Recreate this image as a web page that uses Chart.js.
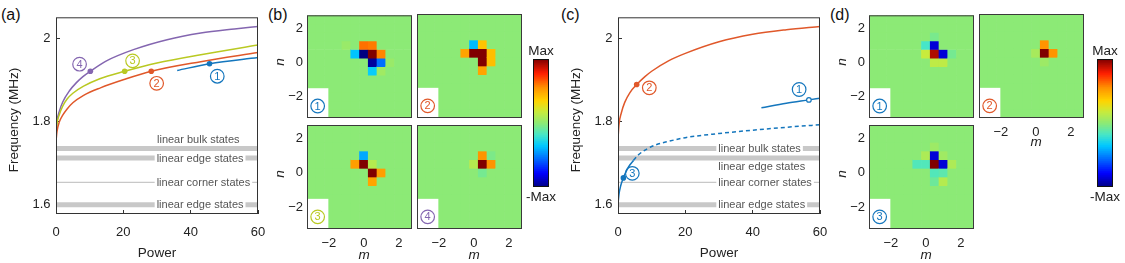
<!DOCTYPE html>
<html>
<head>
<meta charset="utf-8">
<script src="https://cdn.jsdelivr.net/npm/chart.js@4"></script>
<style>
body { margin: 0; background: #fff; }
#wrap { position: relative; width: 1125px; height: 263px; overflow: hidden; }
#wrap canvas { position: absolute; left: 0; top: 0; }
.tag { position: absolute; font: 16px 'Liberation Sans', Arial, sans-serif; color: #111; }
</style>
</head>
<body>
<div id="wrap">
  <div class="tag" style="left:1px;top:6px">(a)</div>
  <div class="tag" style="left:268px;top:6px">(b)</div>
  <div class="tag" style="left:561px;top:6px">(c)</div>
  <div class="tag" style="left:830px;top:6px">(d)</div>
</div>
<script>
// axes
var powerTicks = [0, 20, 40, 60];
var powerTickLabels = ['0', '20', '40', '60'];
var freqTicks = [1.6, 1.8, 2];
var freqTickLabels = ['1.6', '1.8', '2'];
var siteTicks = [-2, 0, 2];
var siteTickLabels = ['\u22122', '0', '2'];
var mVals = [-3, -2.5, -2, -1.5, -1, -0.5, 0, 0.5, 1, 1.5, 2, 2.5];
var nVals = [-3, -2.5, -2, -1.5, -1, -0.5, 0, 0.5, 1, 1.5, 2, 2.5];

// linear states (horizontal bands)
var bandNames = ['linear bulk states', 'linear edge states', 'linear corner states', 'linear edge states'];
var bandFreq = [1.734, 1.711, 1.652, 1.598];

// panel (a): nonlinear branches 1-4
var a1Power = [36, 45.6, 60];
var a1Freq = [1.922, 1.938, 1.953];
var a2Power = [0, 0.3, 1, 2, 3.3, 5, 8.2, 13.2, 20.2, 28.3, 43, 60];
var a2Freq = [1.752, 1.775, 1.798, 1.814, 1.829, 1.844, 1.862, 1.880, 1.900, 1.920, 1.943, 1.965];
var a3Power = [0, 0.3, 1, 2, 3.3, 5, 8.2, 13, 20.4, 30, 43, 60];
var a3Freq = [1.765, 1.793, 1.816, 1.836, 1.853, 1.867, 1.884, 1.902, 1.920, 1.940, 1.960, 1.983];
var a4Power = [0, 0.3, 1, 2, 4, 6, 8, 10.2, 15, 23, 33, 43, 53, 60];
var a4Freq = [1.775, 1.800, 1.824, 1.846, 1.873, 1.892, 1.907, 1.920, 1.945, 1.972, 1.996, 2.012, 2.022, 2.028];
var aDotPower = [45.6, 28.3, 20.4, 10.2];
var aDotFreq = [1.938, 1.920, 1.920, 1.920];

// panel (c): nonlinear branches 1-3
var c1Power = [42.6, 50, 56.7, 60];
var c1Freq = [1.832, 1.843, 1.851, 1.855];
var c2Power = [0, 0.3, 1, 2, 3.5, 5.55, 8, 10, 15, 20, 30, 40, 50, 60];
var c2Freq = [1.757, 1.792, 1.820, 1.845, 1.868, 1.888, 1.907, 1.920, 1.945, 1.963, 1.991, 2.009, 2.020, 2.028];
var c3Power = [0, 0.3, 0.8, 1.6, 2.5, 3.5, 4.6];
var c3Freq = [1.600, 1.624, 1.644, 1.663, 1.680, 1.694, 1.705];
var c3dPower = [4.6, 6, 8, 11, 15, 20, 30, 40, 50, 60];
var c3dFreq = [1.705, 1.718, 1.730, 1.742, 1.751, 1.760, 1.770, 1.778, 1.785, 1.791];
var cDotPower = [5.55, 1.6, 56.7];
var cDotFreq = [1.888, 1.663, 1.851];

// field profiles [m, n, value], value in -Max..Max = -1..1, other sites ~0
var b1Cells = [[0,1,0.62],[0.5,1,0.6],[-0.5,0.5,-0.36],[0,0.5,-1],[0.5,0.5,1],[1,0.5,0.58],[0.5,0,-0.95],[1,0,-0.55],[0.5,-0.5,-0.33],[1,-0.5,0.06],[1.5,0,0.04],[-1,1,0.04]];
var b2Cells = [[0,1,-0.38],[0.5,1,0.4],[-0.5,0.5,0.5],[0,0.5,1],[0.5,0.5,1],[1,0.5,0.42],[0.5,0,1],[1,0,0.42],[0.5,-0.5,0.5]];
var b3Cells = [[0,1,-0.42],[-0.5,0.5,0.52],[0,0.5,1],[0.5,0.5,0.12],[0.5,0,1],[1,0,0.52],[0.5,-0.5,0.5]];
var b4Cells = [[0.5,1,0.55],[0,0.5,0.12],[0.5,0.5,1],[1,0.5,0.55],[0.5,0,-0.06],[1,1,-0.04]];
var d1Cells = [[0,1,-0.18],[0.5,1,-0.85],[0,0.5,0.18],[0.5,0.5,0.92],[1,0.5,-0.85],[1.5,0.5,-0.06],[0.5,0,0.15],[1,0,0.15],[0.5,1.5,-0.05]];
var d2Cells = [[0.5,1,0.55],[0,0.5,0.08],[0.5,0.5,1],[1,0.5,0.55],[0.5,0,0.05]];
var d3Cells = [[0.5,1,-0.85],[0,1,0.1],[1,1,0.06],[0.5,1.5,0.05],[-0.5,0.5,-0.15],[0,0.5,-0.15],[0.5,0.5,1],[1,0.5,-0.85],[1.5,0.5,0.1],[0.5,0,-0.15],[1,0,-0.12],[0.5,-0.5,-0.08],[1,-0.5,0.12]];

var FONT = "'Liberation Sans', Arial, sans-serif";
var BLUE = '#1476bd', ORANGE = '#e0582a', YELLOW = '#b9c922', PURPLE = '#8466b0';
var W = 1125, H = 263;

Chart.defaults.font.family = FONT;
Chart.defaults.color = '#222';

var stops = [
  [-1, [0, 0, 128]], [-0.78, [0, 0, 255]], [-0.55, [0, 110, 255]], [-0.35, [0, 200, 255]],
  [-0.18, [70, 230, 200]], [0, [140, 234, 118]], [0.18, [200, 235, 60]], [0.35, [255, 212, 0]],
  [0.55, [255, 148, 0]], [0.78, [255, 30, 0]], [1, [128, 0, 0]]
];
function cmap(v) {
  for (var i = 1; i < stops.length; i++) {
    if (v <= stops[i][0]) {
      var a = stops[i - 1], b = stops[i], t = (v - a[0]) / (b[0] - a[0]);
      var c = a[1].map(function (x, k) { return Math.round(x + (b[1][k] - x) * t); });
      return 'rgb(' + c.join(',') + ')';
    }
  }
  return 'rgb(128,0,0)';
}

function mk() {
  var c = document.createElement('canvas');
  c.width = W; c.height = H;
  document.getElementById('wrap').appendChild(c);
  return c;
}
// r = [left, top, right, bottom] of the plot area; yw / xh = room kept for the axes
function pad(r, yw, xh) { return { left: r[0] - yw, top: r[1], right: W - r[2], bottom: H - r[3] - xh }; }
function pts(xs, ys) { return xs.map(function (x, i) { return { x: x, y: ys[i] }; }); }

function axis(min, max, ticks, labels, show, padding, size, tl) {
  return {
    type: 'linear', min: min, max: max, offset: false, z: 1,
    afterFit: function (s) { if (s.isHorizontal()) s.height = size; else s.width = size; },
    afterBuildTicks: function (s) { s.ticks = ticks.map(function (v) { return { value: v }; }); },
    ticks: { display: show, padding: padding, autoSkip: false, maxRotation: 0,
      font: { size: 13 }, color: '#222', callback: function (v, i) { return labels[i]; } },
    grid: { drawOnChartArea: false, drawTicks: true, tickLength: tl, offset: false, color: '#333', lineWidth: 1 },
    border: { display: false }
  };
}

function deco(d) {
  return {
    id: 'deco',
    afterDatasetsDraw: function (chart) {
      var ctx = chart.ctx, x = chart.scales.x, y = chart.scales.y;
      ctx.save();
      (d.boxes || []).forEach(function (b) {
        var x0 = x.getPixelForValue(b[0]), x1 = x.getPixelForValue(b[1]);
        var y0 = y.getPixelForValue(b[2]), y1 = y.getPixelForValue(b[3]);
        ctx.fillStyle = '#fff';
        ctx.fillRect(x0, y1, x1 - x0, y0 - y1);
      });
      (d.notes || []).forEach(function (t) {
        ctx.font = '11px ' + FONT;
        var px = x.getPixelForValue(t.x), py = y.getPixelForValue(t.y);
        var w = ctx.measureText(t.text).width;
        if (t.bg) { ctx.fillStyle = '#fff'; ctx.fillRect(px - 2, py - 5, w + 4, 10); }
        ctx.fillStyle = '#555'; ctx.textAlign = 'left'; ctx.textBaseline = 'middle';
        ctx.fillText(t.text, px, py + 0.5);
      });
      (d.circles || []).forEach(function (c) {
        var px = x.getPixelForValue(c.x), py = y.getPixelForValue(c.y);
        ctx.beginPath(); ctx.arc(px, py, 6.8, 0, Math.PI * 2);
        ctx.strokeStyle = c.color; ctx.lineWidth = 1.2; ctx.stroke();
        ctx.fillStyle = c.color; ctx.font = '11px ' + FONT;
        ctx.textAlign = 'center'; ctx.textBaseline = 'middle';
        ctx.fillText(c.text, px, py + 0.5);
      });
      ctx.restore();
    },
    afterDraw: function (chart) {
      var ctx = chart.ctx, a = chart.chartArea;
      ctx.save();
      if (d.frame) {
        ctx.strokeStyle = d.frame; ctx.lineWidth = 1;
        ctx.strokeRect(a.left + 0.5, a.top + 0.5, a.right - a.left - 1, a.bottom - a.top - 1);
      }
      (d.texts || []).forEach(function (t) {
        ctx.save();
        ctx.translate(t.x, t.y);
        if (t.rot) ctx.rotate(t.rot);
        ctx.font = t.font || ('13.5px ' + FONT);
        ctx.fillStyle = '#222'; ctx.textAlign = 'center'; ctx.textBaseline = 'middle';
        ctx.fillText(t.text, 0, 0);
        ctx.restore();
      });
      ctx.restore();
    }
  };
}

function baseOpts(area, yw, xh) {
  return {
    responsive: false, animation: false, devicePixelRatio: 1,
    layout: { padding: pad(area, yw, xh) },
    plugins: { legend: { display: false }, tooltip: { enabled: false } }
  };
}

function curve(xs, ys, color, dash) {
  return { data: pts(xs, ys), borderColor: color, borderWidth: 1.5, pointRadius: 0,
    cubicInterpolationMode: 'monotone', borderDash: dash || [], fill: false };
}
function band(f, width) {
  return { data: pts([0, 60], [f, f]), borderColor: '#c8c8c8', borderWidth: width, pointRadius: 0,
    borderCapStyle: 'butt', tension: 0, fill: false };
}
function bands() {
  return bandFreq.map(function (f, i) { return band(f, i === 2 ? 1.2 : 5); });
}

function lineChart(area, datasets, d) {
  var o = baseOpts(area, 45, 32);
  o.scales = {
    x: axis(0, 60, powerTicks, powerTickLabels, true, 15, 32, -4),
    y: axis(1.576, 2.05, freqTicks, freqTickLabels, true, 9.5, 45, -4)
  };
  return new Chart(mk(), { type: 'line', data: { datasets: datasets }, options: o, plugins: [deco(d)] });
}

// ----- panel (a)
var areaA = [56, 14, 258, 214];
lineChart(areaA,
  [
    { data: pts(aDotPower, aDotFreq), showLine: false, pointRadius: 2.8, pointBorderWidth: 0,
      pointBackgroundColor: [BLUE, ORANGE, YELLOW, PURPLE] },
    curve(a1Power, a1Freq, BLUE),
    curve(a2Power, a2Freq, ORANGE),
    curve(a3Power, a3Freq, YELLOW),
    curve(a4Power, a4Freq, PURPLE)
  ].concat(bands()),
  {
    frame: '#333',
    notes: [
      { x: 30, y: 1.755, text: bandNames[0] },
      { x: 29.9, y: bandFreq[1], text: bandNames[1], bg: true },
      { x: 29.9, y: bandFreq[2], text: bandNames[2], bg: true },
      { x: 29.9, y: bandFreq[3], text: bandNames[3], bg: true }
    ],
    circles: [
      { x: 47.9, y: 1.908, text: '1', color: BLUE },
      { x: 29.9, y: 1.891, text: '2', color: ORANGE },
      { x: 22.75, y: 1.945, text: '3', color: YELLOW },
      { x: 7.0, y: 1.937, text: '4', color: PURPLE }
    ],
    texts: [
      { x: 14, y: 120, text: 'Frequency (MHz)', rot: -Math.PI / 2 },
      { x: 157, y: 253, text: 'Power' }
    ]
  });

// ----- panel (c)
var areaC = [618, 14, 820, 214];
lineChart(areaC,
  [
    { data: pts(cDotPower, cDotFreq), showLine: false, pointRadius: [2.8, 2.8, 2.3],
      pointBorderWidth: [0, 0, 1.2], pointBorderColor: BLUE,
      pointBackgroundColor: [ORANGE, BLUE, '#fff'] },
    curve(c1Power, c1Freq, BLUE),
    curve(c2Power, c2Freq, ORANGE),
    curve(c3Power, c3Freq, BLUE),
    curve(c3dPower, c3dFreq, BLUE, [4, 3])
  ].concat(bands()),
  {
    frame: '#333',
    notes: [
      { x: 29.8, y: bandFreq[0], text: bandNames[0], bg: true },
      { x: 29.8, y: 1.690, text: bandNames[1] },
      { x: 29.8, y: bandFreq[2], text: bandNames[2], bg: true },
      { x: 29.8, y: bandFreq[3], text: bandNames[3], bg: true }
    ],
    circles: [
      { x: 53.8, y: 1.876, text: '1', color: BLUE },
      { x: 9.3, y: 1.880, text: '2', color: ORANGE },
      { x: 4.25, y: 1.674, text: '3', color: BLUE }
    ],
    texts: [
      { x: 576, y: 120, text: 'Frequency (MHz)', rot: -Math.PI / 2 },
      { x: 719, y: 253, text: 'Power' }
    ]
  });

// ----- heatmaps
function heatmap(area, cells, label, color, showX, showY, texts) {
  var vals = {};
  cells.forEach(function (c) { vals[c[0] + ',' + c[1]] = c[2]; });
  var data = [], colors = [];
  mVals.forEach(function (m) {
    nVals.forEach(function (n) {
      var v = vals[m + ',' + n] || 0;
      data.push({ x: m, y: [n - 0.25, n + 0.25] });
      colors.push(cmap(v));
    });
  });
  var o = baseOpts(area, 28, 24);
  o.scales = {
    x: axis(-3.25, 2.75, siteTicks, siteTickLabels, showX, 10, 24, -3.5),
    y: axis(-3.25, 2.75, siteTicks, siteTickLabels, showY, 7.5, 28, -3.5)
  };
  return new Chart(mk(), {
    type: 'bar',
    data: { datasets: [{ data: data, backgroundColor: colors, borderWidth: 0,
      barPercentage: 1, categoryPercentage: 1 }] },
    options: o,
    plugins: [deco({
      frame: '#3a3a3a',
      boxes: [[-3.25, -2.03, -3.25, -1.51]],
      circles: [{ x: -2.64, y: -2.55, text: label, color: color }],
      texts: texts || []
    })]
  });
}

function colorbar(area, texts) {
  var steps = 64, data = [], colors = [];
  for (var i = 0; i < steps; i++) {
    var lo = -1 + 2 * i / steps, hi = -1 + 2 * (i + 1) / steps;
    data.push({ x: 'c', y: [lo, hi] });
    colors.push(cmap((lo + hi) / 2));
  }
  var o = baseOpts(area, 0, 0);
  o.scales = {
    x: { type: 'category', labels: ['c'], display: false },
    y: { type: 'linear', min: -1, max: 1, display: false }
  };
  return new Chart(mk(), {
    type: 'bar',
    data: { labels: ['c'], datasets: [{ data: data, backgroundColor: colors, borderWidth: 0,
      barPercentage: 1, categoryPercentage: 1 }] },
    options: o,
    plugins: [deco({ frame: '#111', texts: texts })]
  });
}

var ITAL = 'italic 13.5px ' + FONT;
var ROT = -Math.PI / 2;

// (b)
heatmap([307, 14, 412, 118], b1Cells, '1', BLUE, false, true,
  [{ x: 280, y: 62, text: 'n', font: ITAL, rot: ROT }]);
heatmap([417, 14, 522, 118], b2Cells, '2', ORANGE, false, false);
heatmap([307, 125, 412, 229], b3Cells, '3', YELLOW, true, true,
  [{ x: 280, y: 174, text: 'n', font: ITAL, rot: ROT }, { x: 364, y: 255, text: 'm', font: ITAL }]);
heatmap([417, 125, 522, 229], b4Cells, '4', PURPLE, true, false,
  [{ x: 474, y: 255, text: 'm', font: ITAL }]);
colorbar([533, 59, 549, 187],
  [{ x: 541, y: 51, text: 'Max', font: '13.5px ' + FONT }, { x: 541, y: 197, text: '-Max', font: '13.5px ' + FONT }]);

// (d)
heatmap([869, 14, 974, 118], d1Cells, '1', BLUE, false, true,
  [{ x: 842, y: 62, text: 'n', font: ITAL, rot: ROT }]);
heatmap([979, 14, 1084, 118], d2Cells, '2', ORANGE, true, false,
  [{ x: 1036, y: 142, text: 'm', font: ITAL }]);
heatmap([869, 125, 974, 229], d3Cells, '3', BLUE, true, true,
  [{ x: 842, y: 174, text: 'n', font: ITAL, rot: ROT }, { x: 926, y: 255, text: 'm', font: ITAL }]);
colorbar([1097, 59, 1113, 187],
  [{ x: 1105, y: 51, text: 'Max', font: '13.5px ' + FONT }, { x: 1105, y: 197, text: '-Max', font: '13.5px ' + FONT }]);
</script>
</body>
</html>
